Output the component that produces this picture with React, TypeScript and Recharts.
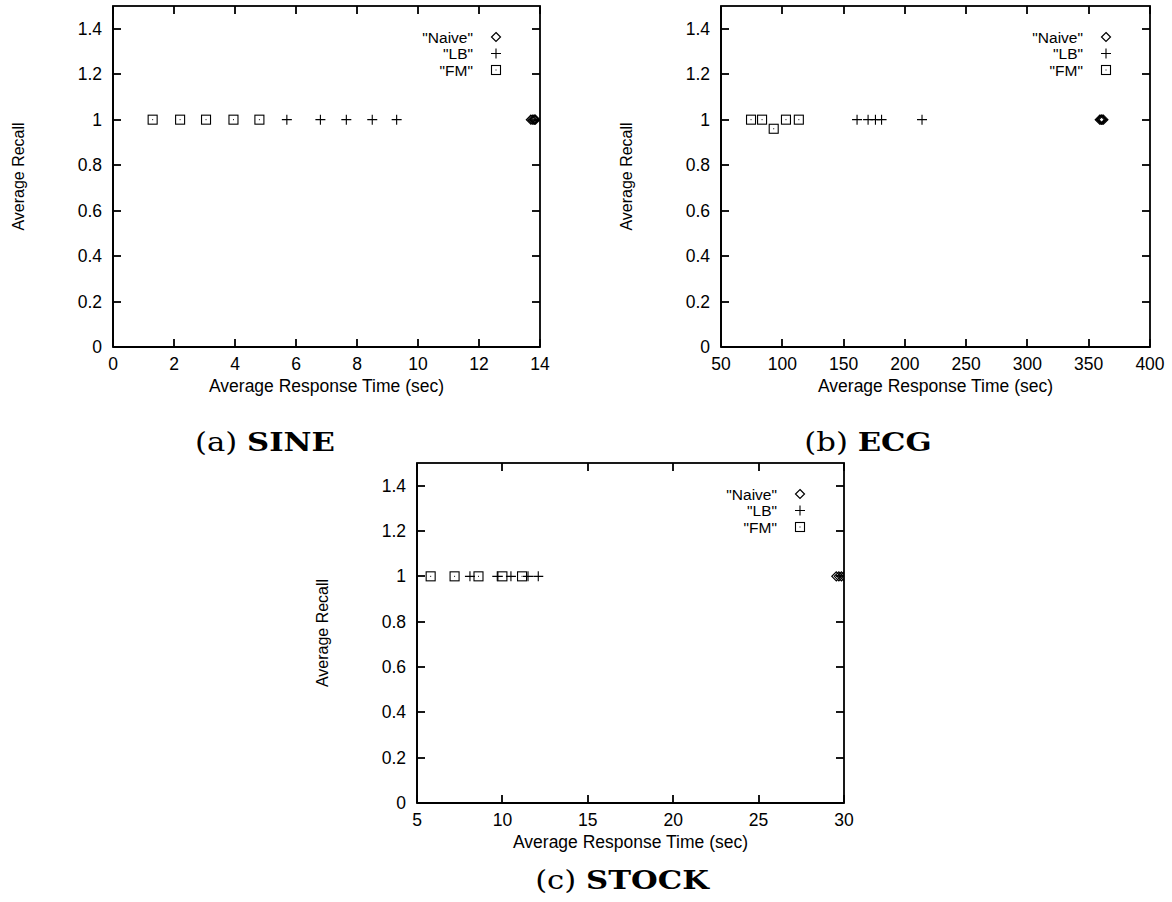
import React from "react";
import { ScatterChart, Scatter, XAxis, YAxis } from "recharts";

// SINE panel
const sineNaiveTime = [13.7, 13.75, 13.8, 13.82, 13.85];
const sineNaiveRecall = [1, 1, 1, 1, 1];
const sineLbTime = [5.7, 6.8, 7.65, 8.5, 9.3];
const sineLbRecall = [1, 1, 1, 1, 1];
const sineFmTime = [1.3, 2.2, 3.05, 3.95, 4.8];
const sineFmRecall = [1, 1, 1, 1, 1];
const sineTimeTicks = [0, 2, 4, 6, 8, 10, 12, 14];

// ECG panel
const ecgNaiveTime = [359, 360, 360.5, 361, 362];
const ecgNaiveRecall = [1, 1, 1, 1, 1];
const ecgLbTime = [161, 170, 176, 181, 214];
const ecgLbRecall = [1, 1, 1, 1, 1];
const ecgFmTime = [74.5, 83.5, 93, 103, 113.5];
const ecgFmRecall = [1, 1, 0.96, 1, 1];
const ecgTimeTicks = [50, 100, 150, 200, 250, 300, 350, 400];

// STOCK panel
const stockNaiveTime = [29.55, 29.7, 29.85, 30];
const stockNaiveRecall = [1, 1, 1, 1];
const stockLbTime = [8.1, 9.7, 10.5, 11.5, 12.1];
const stockLbRecall = [1, 1, 1, 1, 1];
const stockFmTime = [5.8, 7.2, 8.6, 10.0, 11.15];
const stockFmRecall = [1, 1, 1, 1, 1];
const stockTimeTicks = [5, 10, 15, 20, 25, 30];

const recallTicks = [0, 0.2, 0.4, 0.6, 0.8, 1, 1.2, 1.4];
const recallMax = 1.5;

const FONT = '"Liberation Sans", Arial, sans-serif';
const FS = 17.5;
const TICK = 8;
const TW = 1.8;
const BORDER = 1.8;

const pts = (xs: number[], ys: number[]) => xs.map((x, i) => ({ x, y: ys[i] }));

const Diamond = ({ cx, cy }: any) => (
  <path
    d={`M${cx},${cy - 4.5}L${cx + 4.5},${cy}L${cx},${cy + 4.5}L${cx - 4.5},${cy}Z`}
    fill="none"
    stroke="#000"
    strokeWidth={1.2}
  />
);
const Plus = ({ cx, cy }: any) => (
  <path d={`M${cx - 5},${cy}H${cx + 5}M${cx},${cy - 5}V${cy + 5}`} stroke="#000" strokeWidth={1.1} />
);
const Square = ({ cx, cy }: any) => (
  <g>
    <rect x={cx - 4.5} y={cy - 4.5} width={9} height={9} fill="none" stroke="#000" strokeWidth={1.1} />
    <rect x={cx - 0.5} y={cy - 0.5} width={1} height={1} fill="#000" />
  </g>
);

const fmt = (v: number) => String(Number(Number(v).toFixed(1)));

const BottomTick = (props: any) => (
  <text
    x={Number(props.x)}
    y={Number(props.y) + 17}
    textAnchor="middle"
    dominantBaseline="central"
    fontFamily={FONT}
    fontSize={FS}
    fill="#000"
  >
    {props.payload.value}
  </text>
);
const LeftTick = (props: any) => (
  <text
    x={Number(props.x) - 11}
    y={Number(props.y)}
    textAnchor="end"
    dominantBaseline="central"
    fontFamily={FONT}
    fontSize={FS}
    fill="#000"
  >
    {fmt(props.payload.value)}
  </text>
);

const axisLine = { stroke: "#000", strokeWidth: BORDER };

const XTitle = ({ viewBox }: any) => (
  <text
    x={Number(viewBox.x) + Number(viewBox.width) / 2}
    y={Number(viewBox.y) + 39}
    textAnchor="middle"
    dominantBaseline="central"
    fontFamily={FONT}
    fontSize={FS}
    fill="#000"
  >
    Average Response Time (sec)
  </text>
);
const YTitle = ({ viewBox }: any) => {
  const x = Number(viewBox.x) + Number(viewBox.width) - 95;
  const y = Number(viewBox.y) + Number(viewBox.height) / 2;
  return (
    <text
      x={x}
      y={y}
      transform={`rotate(-90 ${x} ${y})`}
      textAnchor="middle"
      dominantBaseline="central"
      fontFamily={FONT}
      fontSize={16}
      fill="#000"
    >
      Average Recall
    </text>
  );
};

const legendRows = [
  { name: '"Naive"', Shape: Diamond },
  { name: '"LB"', Shape: Plus },
  { name: '"FM"', Shape: Square },
];

const PL = 113;
const PT = 6;

function Panel({
  left, top, right, bottom, domain, ticks, naive, lb, fm,
}: {
  left: number; top: number; right: number; bottom: number;
  domain: [number, number]; ticks: number[];
  naive: { x: number; y: number }[]; lb: { x: number; y: number }[]; fm: { x: number; y: number }[];
}) {
  const pw = right - left;
  const ph = bottom - top;
  const w = pw + PL + 30;
  const h = ph + PT + 60;
  // inward tick marks on all four sides of the frame (gnuplot style)
  const tx = (t: number) => Math.round(PL + ((t - domain[0]) / (domain[1] - domain[0])) * pw);
  const ty = (t: number) => Math.round(PT + ph - (t / recallMax) * ph);
  return (
    <div style={{ position: "absolute", left: left - PL, top: top - PT, width: w, height: h }}>
      <ScatterChart width={w} height={h} margin={{ left: PL - 60, top: PT, right: 30, bottom: 30 }}>
        <XAxis
          type="number"
          dataKey="x"
          domain={domain}
          ticks={ticks}
          allowDataOverflow
          height={30}
          tickSize={0}
          tickMargin={0}
          tickLine={false}
          axisLine={axisLine}
          tick={(p: any) => <BottomTick {...p} />}
          interval={0}
          label={<XTitle />}
        />
        <YAxis
          type="number"
          dataKey="y"
          domain={[0, recallMax]}
          ticks={recallTicks}
          allowDataOverflow
          width={60}
          tickSize={0}
          tickMargin={0}
          tickLine={false}
          axisLine={axisLine}
          tick={(p: any) => <LeftTick {...p} />}
          interval={0}
          label={<YTitle />}
        />
        <Scatter name='"Naive"' data={naive} shape={<Diamond />} isAnimationActive={false} />
        <Scatter name='"LB"' data={lb} shape={<Plus />} isAnimationActive={false} />
        <Scatter name='"FM"' data={fm} shape={<Square />} isAnimationActive={false} />
      </ScatterChart>
      <svg
        style={{ position: "absolute", left: 0, top: 0, pointerEvents: "none" }}
        width={w}
        height={h}
      >
        <rect x={PL} y={PT} width={pw} height={ph} fill="none" stroke="#000" strokeWidth={BORDER} />
        {ticks.map((t) => (
          <g key={`x${t}`}>
            <rect x={tx(t) - TW / 2} y={PT + ph - TICK} width={TW} height={TICK} fill="#000" />
            <rect x={tx(t) - TW / 2} y={PT} width={TW} height={TICK} fill="#000" />
          </g>
        ))}
        {recallTicks.map((t) => (
          <g key={`y${t}`}>
            <rect x={PL} y={ty(t) - TW / 2} width={TICK} height={TW} fill="#000" />
            <rect x={PL + pw - TICK} y={ty(t) - TW / 2} width={TICK} height={TW} fill="#000" />
          </g>
        ))}
        {legendRows.map((r, i) => (
          <g key={r.name}>
            <text
              x={PL + pw - 67}
              y={PT + 31 + i * 16.5}
              textAnchor="end"
              dominantBaseline="central"
              fontFamily={FONT}
              fontSize={15.5}
              fill="#000"
            >
              {r.name}
            </text>
            <r.Shape cx={PL + pw - 44} cy={PT + 31 + i * 16.5} />
          </g>
        ))}
      </svg>
    </div>
  );
}

const capStyle: React.CSSProperties = {
  position: "absolute",
  fontFamily: '"DejaVu Serif", serif',
  fontSize: 26,
  color: "#000",
  transform: "translate(-50%, -50%) scaleX(1.18)",
  whiteSpace: "nowrap",
};

export default function App() {
  return (
    <div
      style={{
        position: "absolute",
        left: 0,
        top: 0,
        width: 1172,
        height: 902,
        background: "#fff",
        overflow: "hidden",
      }}
    >
      <Panel
        left={113}
        top={6}
        right={540}
        bottom={347}
        domain={[0, 14]}
        ticks={sineTimeTicks}
        naive={pts(sineNaiveTime, sineNaiveRecall)}
        lb={pts(sineLbTime, sineLbRecall)}
        fm={pts(sineFmTime, sineFmRecall)}
      />
      <Panel
        left={721}
        top={6}
        right={1150}
        bottom={347}
        domain={[50, 400]}
        ticks={ecgTimeTicks}
        naive={pts(ecgNaiveTime, ecgNaiveRecall)}
        lb={pts(ecgLbTime, ecgLbRecall)}
        fm={pts(ecgFmTime, ecgFmRecall)}
      />
      <Panel
        left={417}
        top={463}
        right={844}
        bottom={803}
        domain={[5, 30]}
        ticks={stockTimeTicks}
        naive={pts(stockNaiveTime, stockNaiveRecall)}
        lb={pts(stockLbTime, stockLbRecall)}
        fm={pts(stockFmTime, stockFmRecall)}
      />
      <div style={{ ...capStyle, left: 265, top: 442 }}>
        (a) <b>SINE</b>
      </div>
      <div style={{ ...capStyle, left: 868, top: 442 }}>
        (b) <b>ECG</b>
      </div>
      <div style={{ ...capStyle, left: 622, top: 880 }}>
        (c) <b>STOCK</b>
      </div>
    </div>
  );
}
